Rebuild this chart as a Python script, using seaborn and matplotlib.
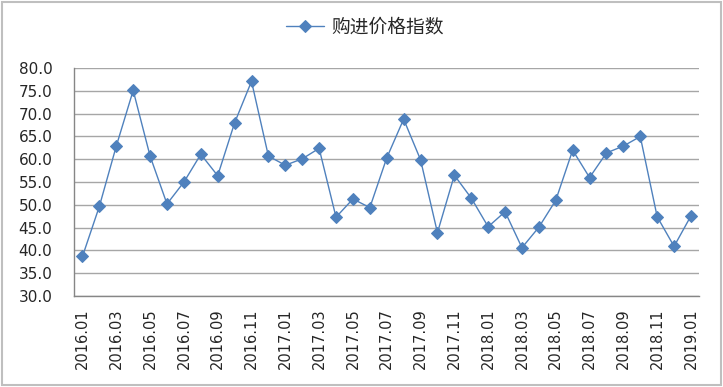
import matplotlib
matplotlib.use("Agg")
import matplotlib.pyplot as plt
from matplotlib.patches import Rectangle
from matplotlib.ticker import MultipleLocator
import numpy as np
import pandas as pd
import seaborn as sns

# 月份 2016.01 - 2019.01
months = [f"{y}.{m:02d}" for y in (2016, 2017, 2018) for m in range(1, 13)] + ["2019.01"]
values = [
    38.7, 49.7, 62.9, 75.1, 60.7, 50.2, 55.0, 61.1, 56.4, 68.0, 77.1, 60.7,
    58.7, 60.1, 62.4, 47.3, 51.3, 49.4, 60.3, 68.8, 59.9, 43.9, 56.5, 51.5,
    45.2, 48.5, 40.6, 45.1, 51.0, 62.0, 56.0, 61.4, 62.9, 65.0, 47.4, 40.9, 47.6,
]
series_name = "购进价格指数"
tick_labels = months[::2]

df = pd.DataFrame({"idx": np.arange(len(months)), "month": months, "value": values})

sns.set_style("white")
plt.rcParams["font.family"] = ["DejaVu Sans"]

fig = plt.figure(figsize=(7.23, 3.87), dpi=100)
ax = fig.add_axes([0.1024, 0.235, 0.865, 0.589])

sns.lineplot(
    data=df, x="idx", y="value", ax=ax,
    color="#4F81BD", linewidth=1.0, marker="D", markersize=6.5,
    markeredgecolor="#4F81BD", markerfacecolor="#4F81BD", label=series_name,
)

ax.set_xlim(-0.5, len(months) - 0.5)
ax.set_ylim(30, 80)
ax.yaxis.set_major_locator(MultipleLocator(5))
ax.set_yticklabels([f"{v:.1f}" for v in ax.get_yticks()])
ax.grid(axis="y", color="#A6A6A6", linewidth=1.0)
ax.set_axisbelow(True)

ax.set_xticks(np.arange(0, len(months), 2))
ax.set_xticklabels(tick_labels, rotation=90)
ax.set_xticks(np.arange(-0.5, len(months), 1), minor=True)
ax.tick_params(axis="x", which="major", length=0, pad=9, labelsize=10.5)
ax.tick_params(axis="x", which="minor", length=3.6, color="#868686", width=1, direction="out")
ax.tick_params(axis="y", length=3.6, color="#868686", width=1, direction="out", labelsize=11, pad=12)
ax.set_xlabel("")
ax.set_ylabel("")

for side in ("top", "right"):
    ax.spines[side].set_visible(False)
for side in ("left", "bottom"):
    ax.spines[side].set_color("#868686")
    ax.spines[side].set_linewidth(1.0)

ax.legend_.remove()
handles, labels = ax.get_legend_handles_labels()
fig.legend(
    handles, labels, loc="center", bbox_to_anchor=(0.505, 0.93),
    frameon=False, handlelength=2.0, handletextpad=0.4,
    prop={"family": ["Noto Sans CJK SC", "DejaVu Sans"], "size": 13.5},
)

fig.patches.append(Rectangle((0.003, 0.005), 0.994, 0.99, transform=fig.transFigure,
                             fill=False, edgecolor="#BFBFBF", linewidth=1.5))

fig.savefig("out.png", dpi=100)
